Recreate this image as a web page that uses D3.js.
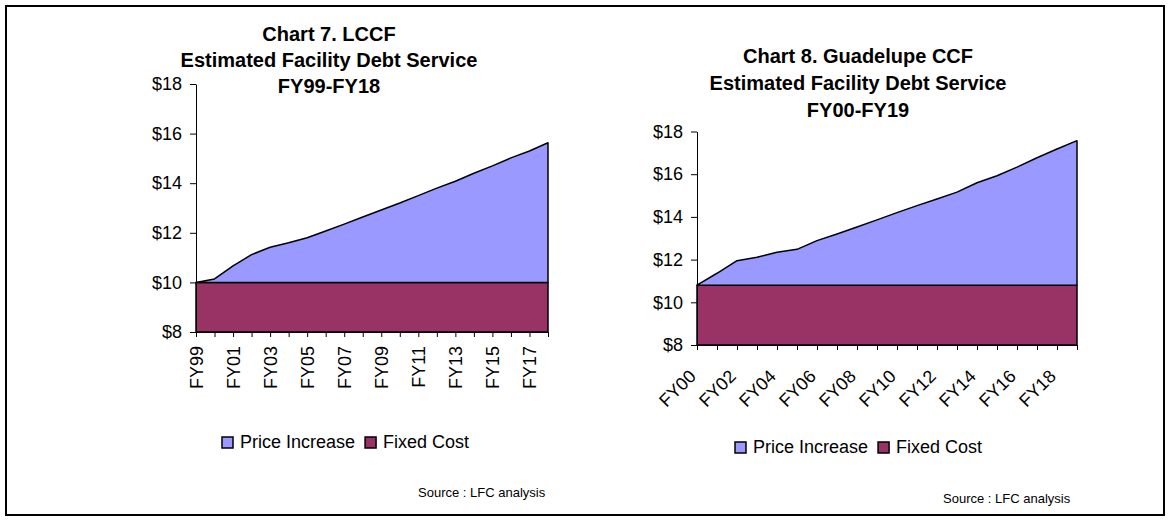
<!DOCTYPE html>
<html>
<head>
<meta charset="utf-8">
<script src="https://cdn.jsdelivr.net/npm/d3@7"></script>
<style>
  body { margin: 0; background: #fff; }
  svg { display: block; font-family: "Liberation Sans", Arial, sans-serif; }
</style>
</head>
<body>
<svg id="canvas" width="1170" height="521"></svg>
<script>
// chart 7 - LCCF
const lccfYears = ["FY99", "FY00", "FY01", "FY02", "FY03", "FY04", "FY05", "FY06", "FY07", "FY08",
  "FY09", "FY10", "FY11", "FY12", "FY13", "FY14", "FY15", "FY16", "FY17", "FY18"];
const lccfFixed = [10, 10, 10, 10, 10, 10, 10, 10, 10, 10, 10, 10, 10, 10, 10, 10, 10, 10, 10, 10];
const lccfIncrease = [0, 0.14, 0.67, 1.12, 1.42, 1.6, 1.8, 2.07, 2.35, 2.64,
  2.92, 3.2, 3.5, 3.8, 4.08, 4.4, 4.7, 5.02, 5.3, 5.63];

// chart 8 - Guadelupe CCF
const gccfYears = ["FY00", "FY01", "FY02", "FY03", "FY04", "FY05", "FY06", "FY07", "FY08", "FY09",
  "FY10", "FY11", "FY12", "FY13", "FY14", "FY15", "FY16", "FY17", "FY18", "FY19"];
const gccfFixed = [10.8, 10.8, 10.8, 10.8, 10.8, 10.8, 10.8, 10.8, 10.8, 10.8,
  10.8, 10.8, 10.8, 10.8, 10.8, 10.8, 10.8, 10.8, 10.8, 10.8];
const gccfIncrease = [0, 0.56, 1.15, 1.31, 1.54, 1.68, 2.09, 2.4, 2.73, 3.06,
  3.4, 3.73, 4.04, 4.36, 4.8, 5.13, 5.53, 5.97, 6.38, 6.77];

const yTicks = [8, 10, 12, 14, 16, 18];
const seriesNames = ["Price Increase", "Fixed Cost"];
const colors = { increase: "#9999ff", fixed: "#993366" };

const svg = d3.select("#canvas");

// outer frame
svg.append("rect")
  .attr("x", 6).attr("y", 6)
  .attr("width", 1158).attr("height", 509)
  .attr("fill", "none")
  .attr("stroke", "#000")
  .attr("stroke-width", 2);

drawChart({
  id: "c7",
  years: lccfYears, fixed: lccfFixed, increase: lccfIncrease,
  title: ["Chart 7. LCCF", "Estimated Facility Debt Service", "FY99-FY18"],
  titleX: 329, titleY: [41, 67, 93],
  x0: 196, x1: 548, y0: 332, y1: 84,
  labelX: 127, clipY: 128,
  slant: false,
  legendX: 222, legendY: 448,
  sourceX: 418, sourceY: 497
});

drawChart({
  id: "c8",
  years: gccfYears, fixed: gccfFixed, increase: gccfIncrease,
  title: ["Chart 8. Guadelupe CCF", "Estimated Facility Debt Service", "FY00-FY19"],
  titleX: 858, titleY: [63, 90, 117],
  x0: 697, x1: 1077, y0: 345, y1: 131.5,
  labelX: 627, clipY: 157,
  slant: true,
  legendX: 735, legendY: 453,
  sourceX: 943, sourceY: 503
});

function drawChart(c) {
  const g = svg.append("g");

  const x = d3.scalePoint().domain(c.years).range([c.x0, c.x1]);
  const y = d3.scaleLinear().domain([8, 18]).range([c.y0, c.y1]);

  const rows = c.years.map((yr, i) => ({ year: yr, fixed: c.fixed[i], increase: c.increase[i] }));
  const stacked = d3.stack().keys(["fixed", "increase"])(rows);

  const area = d3.area()
    .x(d => x(d.data.year))
    .y0(d => y(Math.max(d[0], 8)))
    .y1(d => y(d[1]));

  g.selectAll("path.area")
    .data(stacked)
    .join("path")
    .attr("class", "area")
    .attr("d", area)
    .attr("fill", d => colors[d.key])
    .attr("stroke", "#000")
    .attr("stroke-width", 1.5)
    .attr("stroke-linejoin", "round");

  // y axis
  const yAxis = g.append("g")
    .attr("transform", `translate(${c.x0},0)`)
    .call(d3.axisLeft(y).tickValues(yTicks).tickFormat(d => "$" + d).tickSize(6).tickSizeOuter(0).tickPadding(8));
  yAxis.selectAll("text").attr("font-size", 18).attr("fill", "#000").attr("font-family", null);

  // x axis, every other year labelled
  const xAxis = g.append("g")
    .attr("transform", `translate(0,${c.y0})`)
    .call(d3.axisBottom(x).tickSize(5).tickSizeOuter(0).tickFormat((d, i) => i % 2 === 0 ? d : ""));
  xAxis.selectAll("text").attr("font-size", 18).attr("fill", "#000").attr("font-family", null);
  if (c.slant) {
    xAxis.selectAll("text")
      .attr("text-anchor", "end")
      .attr("y", 0).attr("dy", "0.35em")
      .attr("transform", "translate(-5,28) rotate(-45)");
  } else {
    xAxis.selectAll("text")
      .attr("text-anchor", "end")
      .attr("x", 0).attr("y", 0).attr("dy", "0.35em")
      .attr("transform", "translate(0,14) rotate(-90)");
  }
  g.selectAll(".domain, .tick line").attr("stroke", "#000");

  // y label, cut off at the top like the original
  svg.append("clipPath").attr("id", c.id + "-clip")
    .append("rect").attr("x", 0).attr("y", c.clipY).attr("width", 1170).attr("height", 521);
  g.append("text")
    .attr("clip-path", `url(#${c.id}-clip)`)
    .attr("transform", `translate(${c.labelX},${(c.y0 + c.y1) / 2}) rotate(-90)`)
    .attr("text-anchor", "middle")
    .attr("font-size", 18)
    .text("Estimated Per Diem");

  // title
  g.selectAll("text.title")
    .data(c.title)
    .join("text")
    .attr("class", "title")
    .attr("x", c.titleX)
    .attr("y", (d, i) => c.titleY[i])
    .attr("text-anchor", "middle")
    .attr("font-size", 20)
    .attr("font-weight", "bold")
    .text(d => d);

  // legend
  const legend = g.append("g").attr("transform", `translate(${c.legendX},${c.legendY})`);
  let lx = 0;
  [["increase", seriesNames[0]], ["fixed", seriesNames[1]]].forEach(([key, name]) => {
    legend.append("rect")
      .attr("x", lx).attr("y", -11)
      .attr("width", 11).attr("height", 11)
      .attr("fill", colors[key])
      .attr("stroke", "#000")
      .attr("stroke-width", 1.5);
    const t = legend.append("text")
      .attr("x", lx + 18).attr("y", 0)
      .attr("font-size", 18)
      .text(name);
    lx += 18 + t.node().getComputedTextLength() + 10;
  });

  g.append("text")
    .attr("x", c.sourceX).attr("y", c.sourceY)
    .attr("font-size", 13)
    .text("Source : LFC analysis");
}
</script>
</body>
</html>
